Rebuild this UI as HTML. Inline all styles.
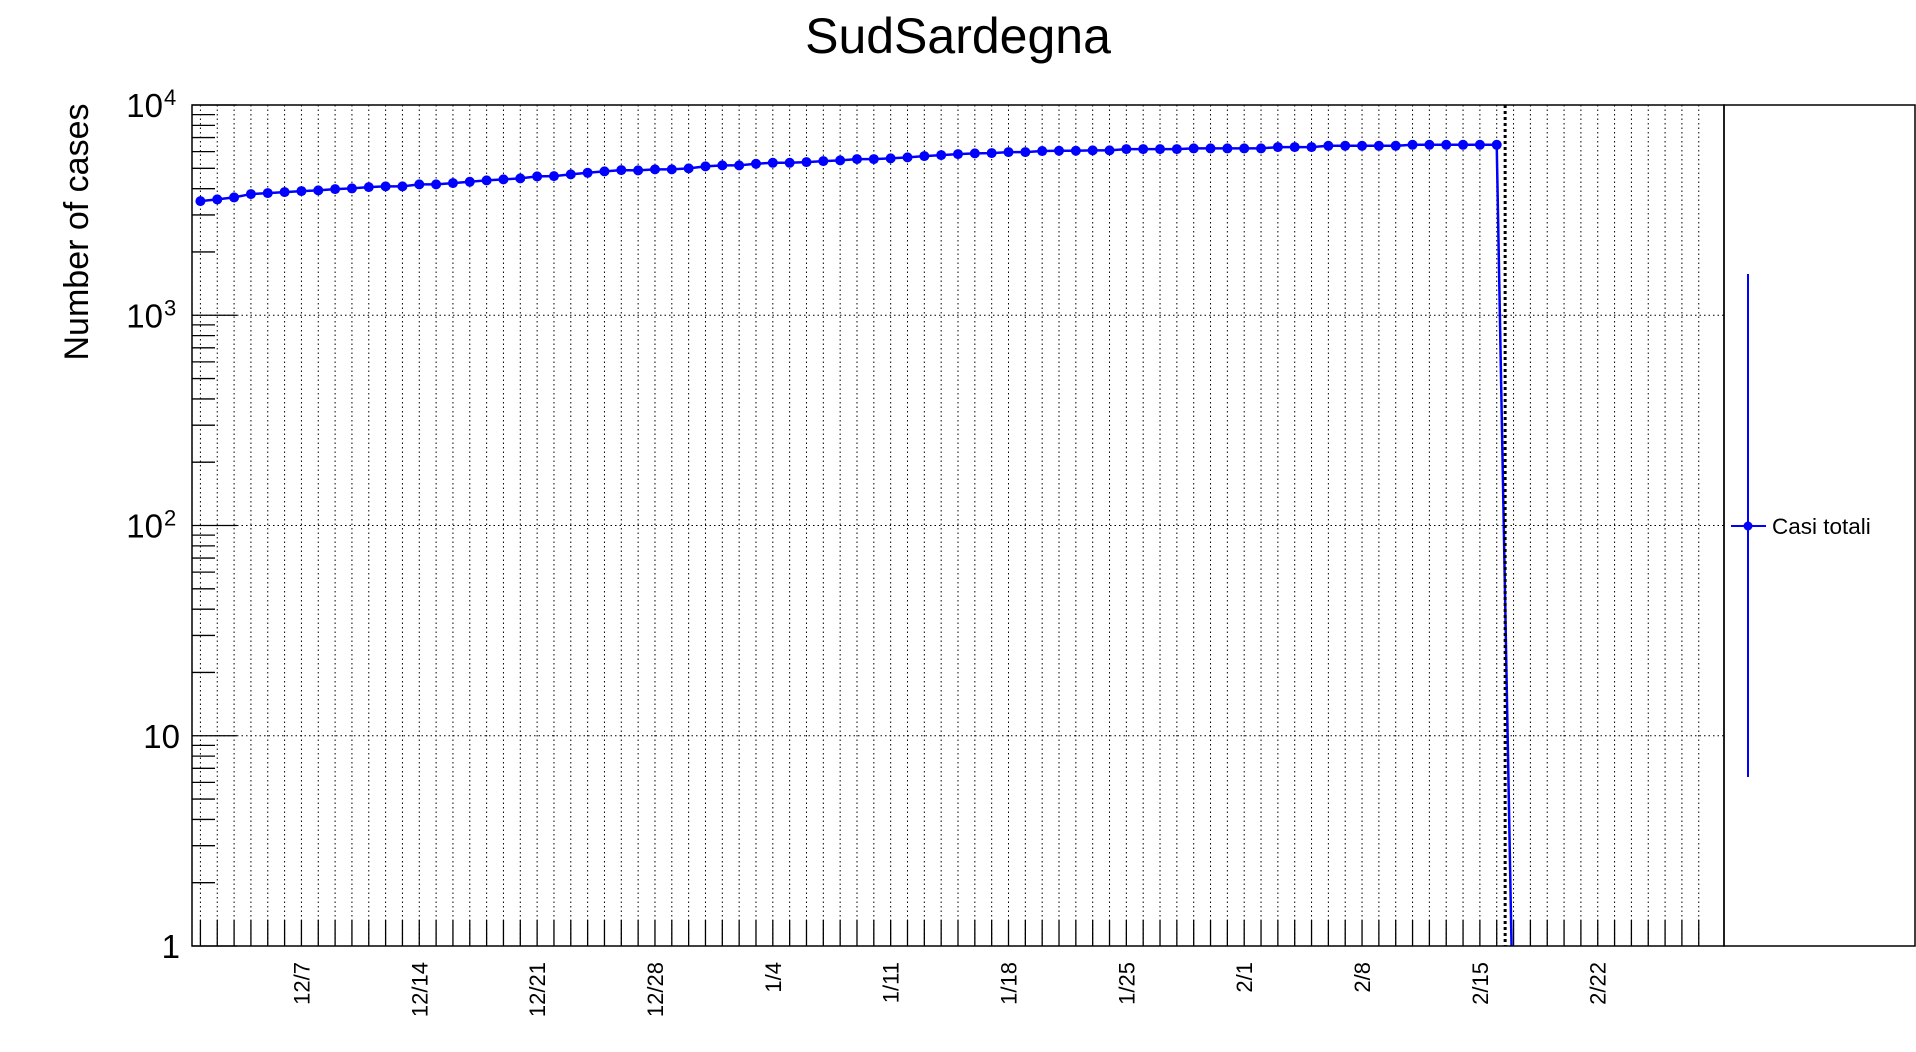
<!DOCTYPE html>
<html><head><meta charset="utf-8"><style>
html,body{margin:0;padding:0;background:#fff;}
svg{display:block;font-family:"Liberation Sans",Arial,sans-serif;}
</style></head><body>
<svg id="chart" width="1916" height="1052" viewBox="0 0 1916 1052" xmlns="http://www.w3.org/2000/svg">
<defs><clipPath id="plotclip"><rect x="192" y="105" width="1532" height="841"/></clipPath></defs>
<text x="958" y="53" font-size="50" text-anchor="middle">SudSardegna</text>
<text transform="translate(88,232) rotate(-90)" font-size="34" text-anchor="middle">Number of cases</text>
<g id="grid"></g>
<g id="axes"></g>
<g id="series" clip-path="url(#plotclip)"></g>
<rect x="192" y="105" width="1532" height="841" fill="none" stroke="#000" stroke-width="1.5"/>
<rect x="1724" y="105" width="191" height="841" fill="none" stroke="#000" stroke-width="1.5"/>
<g>
<line x1="1748" y1="274" x2="1748" y2="777" stroke="#0000ff" stroke-width="2"/>
<line x1="1731" y1="526" x2="1766" y2="526" stroke="#0000ff" stroke-width="2"/>
<circle cx="1748" cy="526" r="4.5" fill="#0000ff"/>
<text x="1772" y="534" font-size="22.5">Casi totali</text>
</g>
</svg>
<script>
const xTickLabels = ["12/7","12/14","12/21","12/28","1/4","1/11","1/18","1/25","2/1","2/8","2/15","2/22"];
const xTickDayIndex = [6,13,20,27,34,41,48,55,62,69,76,83];
const yDecades = [0,1,2,3,4];
const yDecadeLabels = ["1","10","10^2","10^3","10^4"];
const casiTotali = [3490,3556,3635,3770,3811,3853,3895,3925,3981,4011,4069,4101,4101,4192,4192,4252,4313,4380,4428,4477,4574,4589,4677,4760,4834,4903,
4886,4940,4940,4995,5105,5162,5162,5253,5311,5311,5352,5411,5453,5531,5531,5573,5636,5716,5779,5843,5888,5907,5972,5972,6039,6058,
6058,6084,6084,6170,6170,6170,6170,6216,6216,6216,6216,6216,6307,6307,6307,6398,6398,6398,6398,6398,6468,6468,6468,6468,6468,6468];
const nextDayValue = 0.3;
const nDays = 91;
const markerDayIndex = 78.0;

const NS="http://www.w3.org/2000/svg";
const L=192,R=1724,T=105,B=946;
const dayW=(R-L)/nDays;
const xs=i=>L+(i+0.5)*dayW;
const ys=v=>B-(B-T)*Math.log10(v)/4;
function mk(tag,attrs,parent){const e=document.createElementNS(NS,tag);for(const k in attrs)e.setAttribute(k,attrs[k]);parent.appendChild(e);return e;}
const grid=document.getElementById('grid'),axes=document.getElementById('axes'),ser=document.getElementById('series');
for(let i=0;i<nDays-1;i++){
  const g=mk('line',{x1:xs(i),y1:T,x2:xs(i),y2:B,stroke:'#000','stroke-width':1,'stroke-dasharray':'1.5,3'},grid);
  
  
  const t=mk('line',{x1:xs(i),y1:B,x2:xs(i),y2:B-26,stroke:'#000','stroke-width':1.3},axes);
  
  
}
xTickLabels.forEach((lab,k)=>{
  const x=xs(xTickDayIndex[k]);
  const t=mk('text',{transform:`translate(${x+8},962) rotate(-90)`,'font-size':22,'text-anchor':'end'},axes);
  t.textContent=lab;
  
  
});
yDecades.forEach((d,k)=>{
  const y=ys(Math.pow(10,d));
  if(d>0&&d<4){
    const g=mk('line',{x1:L,y1:y,x2:R,y2:y,stroke:'#000','stroke-width':1,'stroke-dasharray':'1.5,3'},grid);
    
    
  }
  const mt=mk('line',{x1:L,y1:y,x2:L+45,y2:y,stroke:'#000','stroke-width':1.3},axes);
  
  
  if(d<4){for(let m=2;m<=9;m++){const yy=ys(m*Math.pow(10,d));
    const mn=mk('line',{x1:L,y1:yy,x2:L+23,y2:yy,stroke:'#000','stroke-width':1.3},axes);
    
    }}
  const lab=yDecadeLabels[k];
  const t=mk('text',{x:180,y:y+12,'font-size':33,'text-anchor':'end'},axes);
  
  
  if(lab.indexOf('^')>0){const p=lab.split('^');
    t.setAttribute('x',163);
    t.textContent=p[0];
    const s=mk('text',{x:164,y:y,'font-size':22},axes);s.textContent=p[1];
    
    
  } else t.textContent=lab;
});
let pts=casiTotali.map((v,i)=>[xs(i),ys(v)]);
const lastV=casiTotali[casiTotali.length-1], lastI=casiTotali.length-1;
let tail=[];
for(let s=1;s<=200;s++){const t=s/200;const v=lastV*Math.pow(nextDayValue/lastV,t);
  const y=ys(v);tail.push([xs(lastI+t),y]);if(y>B+5)break;}
const line=mk('polyline',{points:pts.concat(tail).map(p=>p.join(',')).join(' '),fill:'none',stroke:'#0000ff','stroke-width':2.5},ser);


pts.forEach(p=>{const c=mk('circle',{cx:p[0],cy:p[1],r:5,fill:'#0000ff'},ser);
  
  });
const vl=mk('line',{x1:L+markerDayIndex*dayW,y1:T,x2:L+markerDayIndex*dayW,y2:B,stroke:'#000','stroke-width':3,'stroke-dasharray':'3,3'},ser);


</script>
</body></html>
